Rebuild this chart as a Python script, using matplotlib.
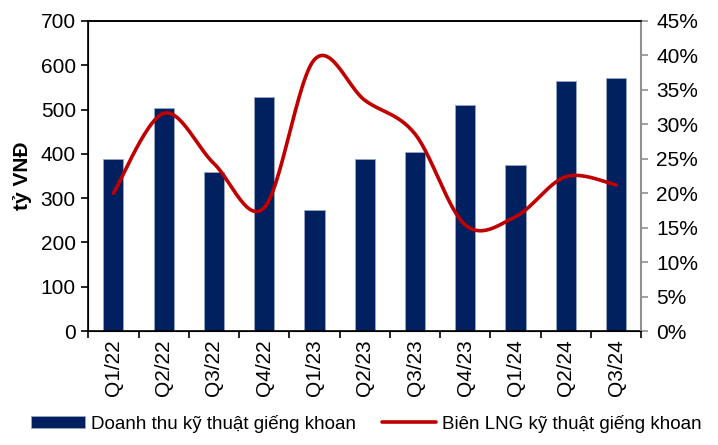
import numpy as np
import matplotlib
matplotlib.use("Agg")
import matplotlib.pyplot as plt
from matplotlib.ticker import FuncFormatter, FixedLocator

plt.rcParams['font.family'] = ['Liberation Sans', 'DejaVu Sans']

quarters = ["Q1/22", "Q2/22", "Q3/22", "Q4/22", "Q1/23", "Q2/23",
            "Q3/23", "Q4/23", "Q1/24", "Q2/24", "Q3/24"]
revenue = [388, 503, 359, 528, 273, 388, 404, 510, 375, 564, 571]
margin = [20.0, 31.6, 24.3, 17.9, 39.4, 33.5, 28.6, 15.4, 16.6, 22.4, 21.2]


def smooth(x, y, n=30):
    # Excel-like smoothed line (Catmull-Rom through the points)
    x = np.asarray(x, float)
    y = np.asarray(y, float)
    px = np.concatenate([[x[0]], x, [x[-1]]])
    py = np.concatenate([[y[0]], y, [y[-1]]])
    xs, ys = [], []
    t = np.linspace(0, 1, n)
    for i in range(1, len(px) - 2):
        for p, out in ((px, xs), (py, ys)):
            p0, p1, p2, p3 = p[i - 1], p[i], p[i + 1], p[i + 2]
            m1 = (p2 - p0) / 2
            m2 = (p3 - p1) / 2
            h00 = 2 * t**3 - 3 * t**2 + 1
            h10 = t**3 - 2 * t**2 + t
            h01 = -2 * t**3 + 3 * t**2
            h11 = t**3 - t**2
            out.extend(h00 * p1 + h10 * m1 + h01 * p2 + h11 * m2)
    return np.array(xs), np.array(ys)


fig, ax = plt.subplots(figsize=(7.18, 4.45), dpi=100)
fig.subplots_adjust(left=0.123, right=0.893, top=0.953, bottom=0.256)

x = np.arange(len(quarters))
bars = ax.bar(x, revenue, width=0.4, color="#002060", edgecolor="#9aa8c8",
              linewidth=0.6, label="Doanh thu kỹ thuật giếng khoan", zorder=2)
ax.set_ylim(0, 700)
ax.set_xlim(-0.5, len(quarters) - 0.5)
ax.set_yticks(range(0, 701, 100))
ax.set_xticks(x)
ax.set_xticklabels(quarters, rotation=90, fontsize=15)
ax.tick_params(axis='x', which='major', length=0, pad=6)
ax.xaxis.set_minor_locator(FixedLocator(np.arange(-0.5, len(quarters), 1)))
ax.tick_params(axis='x', which='minor', length=5, width=1.2, direction='out')
ax.tick_params(axis='y', labelsize=15, length=5, width=1.2, direction='out', pad=4)
ax.set_ylabel("tỷ VNĐ", fontsize=15, fontweight='bold', labelpad=6)
for s in ax.spines.values():
    s.set_linewidth(1.2)

ax2 = ax.twinx()
sx, sy = smooth(x, margin)
line, = ax2.plot(sx, sy, color="#C00000", linewidth=2.6,
                 solid_capstyle='round', label="Biên LNG kỹ thuật giếng khoan", zorder=3)
ax2.set_ylim(0, 45)
ax2.set_yticks(range(0, 46, 5))
ax2.yaxis.set_major_formatter(FuncFormatter(lambda v, p: f"{v:.0f}%"))
ax2.tick_params(axis='y', labelsize=15, length=5, width=1.2, color="#909090", pad=6)
ax2.spines['right'].set_color("#909090")
ax2.spines['right'].set_linewidth(1.5)
ax2.spines['top'].set_linewidth(1.2)

fig.legend([bars, line], [bars.get_label(), line.get_label()],
           loc='lower center', bbox_to_anchor=(0.51, -0.01), ncol=2,
           frameon=False, fontsize=13.5, handlelength=2.9, handleheight=0.6,
           columnspacing=1.4, handletextpad=0.3)

plt.savefig("out.png", dpi=100)
